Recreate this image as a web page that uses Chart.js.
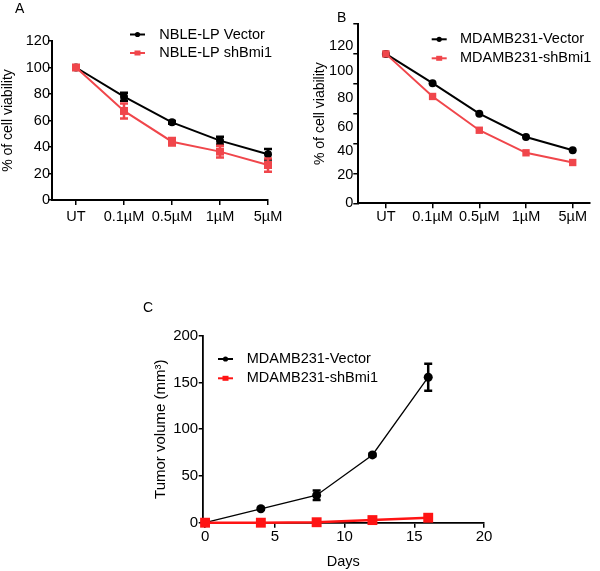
<!DOCTYPE html>
<html lang="en">
<head>
<meta charset="UTF-8">
<title>Cell viability and tumor volume</title>
<script src="https://cdn.jsdelivr.net/npm/chart.js"></script>
<style>
  body { margin: 0; background: #fff; }
  #wrap { position: relative; width: 600px; height: 571px; font-family: Arial, "Liberation Sans", sans-serif; }
  canvas, .tag { position: absolute; }
  .tag { font-size: 14px; line-height: 14px; color: #000; }
</style>
</head>
<body>
<div id="wrap">
  <canvas id="chartA" width="300" height="290" style="left:0;top:0"></canvas>
  <canvas id="chartB" width="300" height="290" style="left:300px;top:0"></canvas>
  <canvas id="chartC" width="360" height="281" style="left:140px;top:290px"></canvas>
  <div class="tag" style="left:15px;top:1px">A</div>
  <div class="tag" style="left:337px;top:10px">B</div>
  <div class="tag" style="left:143px;top:300px">C</div>
</div>

<script>
  // panel A / B : viability per dose
  const doses = ['UT', '0.1µM', '0.5µM', '1µM', '5µM'];
  const nbleVector = [100, 78, 58.6, 44.8, 34.5];
  const nbleVectorErr = [0, 3, 1, 2.9, 4];
  const nbleSh = [100, 67.2, 44, 36.5, 26.4];
  const nbleShErr = [0, 5.7, 2.8, 4.4, 5];
  const mdaVector = [100, 80.4, 60, 44.4, 35.5];
  const mdaSh = [100, 71.5, 48.9, 33.8, 27.3];
  const viabilityTicks = [0, 20, 40, 60, 80, 100, 120];
  // in panel B the printed labels sit off their tick marks
  const mdaTickLabelAt = [0, 19.2, 35, 51, 70.5, 88.3, 105];

  // panel C : tumor growth
  const days = [0, 4, 8, 12, 16];
  const tumorVector = [0, 14.9, 29.4, 72.5, 155.6];
  const tumorVectorErr = [0, 1, 5, 1.5, 14.5];
  const tumorSh = [0, 0, 0.5, 2.8, 5.3];
  const dayTicks = [0, 5, 10, 15, 20];
  const volumeTicks = [0, 50, 100, 150, 200];

  const F = 'Arial, "Liberation Sans", sans-serif';
  const RED = 'rgb(240, 70, 75)';
  const RED_C = 'rgb(255, 20, 20)';
  Chart.defaults.font.family = F;
  Chart.defaults.color = '#000';

  const errorBars = {
    id: 'errorBars',
    afterDatasetsDraw(chart) {
      const ctx = chart.ctx;
      const ys = chart.scales.y;
      chart.data.datasets.forEach((ds, i) => {
        if (!ds.errors) return;
        const meta = chart.getDatasetMeta(i);
        ctx.save();
        ctx.strokeStyle = ds.borderColor;
        ctx.lineWidth = ds.errorWidth || 2;
        meta.data.forEach((pt, j) => {
          const e = ds.errors[j];
          if (!e) return;
          const v = ds.data[j].y;
          const top = ys.getPixelForValue(v + e);
          const bot = ys.getPixelForValue(v - e);
          const cap = 4;
          ctx.beginPath();
          ctx.moveTo(pt.x, top); ctx.lineTo(pt.x, bot);
          ctx.moveTo(pt.x - cap, top); ctx.lineTo(pt.x + cap, top);
          ctx.moveTo(pt.x - cap, bot); ctx.lineTo(pt.x + cap, bot);
          ctx.stroke();
        });
        ctx.restore();
      });
    }
  };

  // legend with a short line and the marker on it
  const lineLegend = {
    id: 'lineLegend',
    afterDraw(chart, args, opts) {
      const ctx = chart.ctx;
      ctx.save();
      ctx.font = opts.fontSize + 'px ' + F;
      ctx.textBaseline = 'middle';
      chart.data.datasets.forEach((ds, i) => {
        const y = opts.y + i * opts.rowGap;
        const cx = opts.x + 7.5;
        ctx.strokeStyle = ds.borderColor;
        ctx.lineWidth = 2;
        ctx.beginPath(); ctx.moveTo(opts.x, y); ctx.lineTo(opts.x + 15, y); ctx.stroke();
        ctx.fillStyle = ds.borderColor;
        if (ds.pointStyle === 'rect') {
          ctx.fillRect(cx - 3, y - 2.5, 6, 5);
        } else {
          ctx.beginPath(); ctx.arc(cx, y, 2.6, 0, Math.PI * 2); ctx.fill();
        }
        ctx.fillStyle = '#000';
        ctx.fillText(ds.label, opts.textX, y);
      });
      ctx.restore();
    }
  };

  const shiftedLabels = {
    id: 'shiftedLabels',
    afterDraw(chart, args, opts) {
      const ctx = chart.ctx;
      const s = chart.scales.y;
      ctx.save();
      ctx.font = opts.fontSize + 'px ' + F;
      ctx.textAlign = 'right';
      ctx.textBaseline = 'middle';
      ctx.fillStyle = '#000';
      opts.labels.forEach((t, i) => {
        ctx.fillText(t, s.right - 5, s.getPixelForValue(opts.at[i]));
      });
      ctx.restore();
    }
  };

  const tickGrid = len => ({ display: true, drawOnChartArea: false, drawTicks: true, tickLength: len, color: '#000', lineWidth: 1.5 });
  const axisLine = w => ({ display: true, color: '#000', width: w });
  const pts = (xs, ys) => ys.map((v, i) => ({ x: xs[i], y: v }));
  const idx = doses.map((d, i) => i);

  function blackSet(label, data, err, lw, r) {
    return {
      label: label, data: data, errors: err, errorWidth: 2.5, order: 1,
      borderColor: '#000', backgroundColor: '#000', borderWidth: lw,
      pointStyle: 'circle', pointRadius: r, pointBorderWidth: 0, pointBackgroundColor: '#000',
      tension: 0, clip: false
    };
  }
  function redSet(label, data, err, color, lw, r) {
    return {
      label: label, data: data, errors: err, errorWidth: 2.5, order: 0,
      borderColor: color, backgroundColor: color, borderWidth: lw,
      pointStyle: 'rect', pointRadius: r, pointBorderWidth: 0, pointBackgroundColor: color,
      tension: 0, clip: false
    };
  }

  new Chart(document.getElementById('chartA'), {
    type: 'line',
    data: {
      datasets: [
        blackSet('NBLE-LP Vector', pts(idx, nbleVector), nbleVectorErr, 2, 4),
        redSet('NBLE-LP shBmi1', pts(idx, nbleSh), nbleShErr, RED, 2, 5.66)
      ]
    },
    options: {
      responsive: false,
      animation: false,
      layout: { padding: { left: 0, top: 41, right: 32, bottom: 60 } },
      scales: {
        x: {
          type: 'linear', min: -0.5, max: 4,
          afterBuildTicks: s => { s.ticks = idx.map(v => ({ value: v })); },
          afterFit: s => { s.height = 30; },
          grid: tickGrid(5), border: axisLine(2),
          ticks: { font: { size: 14.5, lineHeight: 1 }, padding: 4.5, maxRotation: 0, autoSkip: false, callback: v => doses[v] }
        },
        y: {
          min: 0, max: 120,
          afterBuildTicks: s => { s.ticks = viabilityTicks.map(v => ({ value: v })); },
          afterFit: s => { s.width = 52; },
          grid: tickGrid(4), border: axisLine(2),
          ticks: { font: { size: 14.5, lineHeight: 1 }, padding: -2 },
          title: { display: true, text: '% of cell viability', font: { size: 14 }, padding: 0 }
        }
      },
      plugins: {
        legend: { display: false },
        tooltip: { enabled: false },
        lineLegend: { x: 130, textX: 159.3, y: 34.5, rowGap: 18.5, fontSize: 14.5 }
      }
    },
    plugins: [errorBars, lineLegend]
  });

  new Chart(document.getElementById('chartB'), {
    type: 'line',
    data: {
      datasets: [
        blackSet('MDAMB231-Vector', pts(idx, mdaVector), null, 2, 4),
        redSet('MDAMB231-shBmi1', pts(idx, mdaSh), null, RED, 2, 5.2)
      ]
    },
    options: {
      responsive: false,
      animation: false,
      layout: { padding: { left: 12, top: 24, right: 10, bottom: 56.7 } },
      scales: {
        x: {
          type: 'linear', min: -0.59, max: 4.37,
          afterBuildTicks: s => { s.ticks = idx.map(v => ({ value: v })); },
          afterFit: s => { s.height = 30; },
          grid: tickGrid(5), border: axisLine(2),
          ticks: { font: { size: 14.5, lineHeight: 1 }, padding: 1, maxRotation: 0, autoSkip: false, callback: v => doses[v] }
        },
        y: {
          min: 0, max: 120,
          afterBuildTicks: s => { s.ticks = viabilityTicks.map(v => ({ value: v })); },
          afterFit: s => { s.width = 46.3; },
          grid: tickGrid(5), border: axisLine(2),
          ticks: { font: { size: 14.5, lineHeight: 1 }, padding: 0, callback: () => '' },
          title: { display: true, text: '% of cell viability', font: { size: 14 }, padding: 0 }
        }
      },
      plugins: {
        legend: { display: false },
        tooltip: { enabled: false },
        lineLegend: { x: 131.7, textX: 160, y: 39.3, rowGap: 19, fontSize: 14.5 },
        shiftedLabels: { labels: viabilityTicks.map(String), at: mdaTickLabelAt, fontSize: 14.5 }
      }
    },
    plugins: [lineLegend, shiftedLabels]
  });

  new Chart(document.getElementById('chartC'), {
    type: 'line',
    data: {
      datasets: [
        blackSet('MDAMB231-Vector', pts(days, tumorVector), tumorVectorErr, 1.3, 4.5),
        redSet('MDAMB231-shBmi1', pts(days, tumorSh), null, RED_C, 2.5, 7)
      ]
    },
    options: {
      responsive: false,
      animation: false,
      layout: { padding: { left: 12, top: 45.7, right: 16, bottom: 0 } },
      scales: {
        x: {
          type: 'linear', min: -0.17, max: 20,
          afterBuildTicks: s => { s.ticks = dayTicks.map(v => ({ value: v })); },
          afterFit: s => { s.height = 48.3; },
          grid: tickGrid(5), border: axisLine(1.8),
          ticks: { font: { size: 15, lineHeight: 1 }, padding: 1.5, maxRotation: 0, autoSkip: false },
          title: { display: true, text: 'Days', font: { size: 14.5 }, padding: 0 }
        },
        y: {
          min: 0, max: 200,
          afterBuildTicks: s => { s.ticks = volumeTicks.map(v => ({ value: v })); },
          afterFit: s => { s.width = 50.7; },
          grid: tickGrid(4), border: axisLine(1.8),
          ticks: { font: { size: 15, lineHeight: 1 }, padding: 0.5 },
          title: { display: true, text: 'Tumor volume (mm³)', font: { size: 15 }, padding: 0 }
        }
      },
      plugins: {
        legend: { display: false },
        tooltip: { enabled: false },
        lineLegend: { x: 78, textX: 106.7, y: 69, rowGap: 19.3, fontSize: 14.5 }
      }
    },
    plugins: [errorBars, lineLegend]
  });
</script>
</body>
</html>
